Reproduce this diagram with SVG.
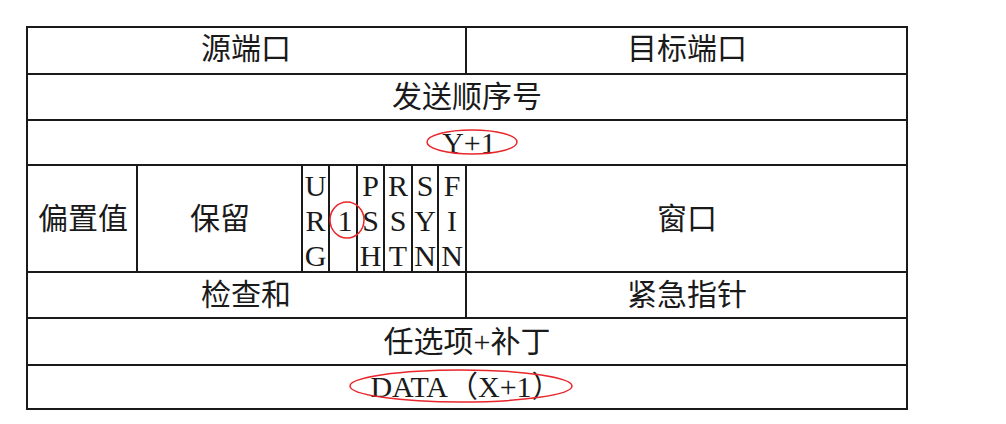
<svg xmlns="http://www.w3.org/2000/svg" width="1006" height="424" viewBox="0 0 1006 424">
<style>
  .ln { stroke: #1a1a1a; stroke-width: 2; fill: none; }
  .t { font-family: "Liberation Serif", "Noto Sans CJK SC", serif; font-size: 30px; fill: #1a1a1a; text-anchor: middle; dominant-baseline: central; }
  .cj { font-size: 30px; }
  .mark { fill: none; stroke: #e8262b; stroke-width: 1.5; }
</style>
<rect width="1006" height="424" fill="#ffffff"/>
<g id="grid">
  <rect class="ln" x="27" y="27" width="880" height="382"/>
  <line class="ln" x1="27" y1="74" x2="907" y2="74"/>
  <line class="ln" x1="27" y1="120" x2="907" y2="120"/>
  <line class="ln" x1="27" y1="165" x2="907" y2="165"/>
  <line class="ln" x1="27" y1="272" x2="907" y2="272"/>
  <line class="ln" x1="27" y1="318" x2="907" y2="318"/>
  <line class="ln" x1="27" y1="365" x2="907" y2="365"/>
  <line class="ln" x1="466" y1="27" x2="466" y2="74"/>
  <line class="ln" x1="466" y1="165" x2="466" y2="318"/>
  <line class="ln" x1="137" y1="165" x2="137" y2="272"/>
  <line class="ln" x1="302" y1="165" x2="302" y2="272"/>
  <line class="ln" x1="329" y1="165" x2="329" y2="272"/>
  <line class="ln" x1="357" y1="165" x2="357" y2="272"/>
  <line class="ln" x1="384" y1="165" x2="384" y2="272"/>
  <line class="ln" x1="412" y1="165" x2="412" y2="272"/>
  <line class="ln" x1="438" y1="165" x2="438" y2="272"/>
</g>
<g id="src-port"><text class="t cj" x="246" y="48">源端口</text></g>
<g id="dst-port"><text class="t cj" x="687" y="48">目标端口</text></g>
<g id="seq"><text class="t cj" x="467" y="96">发送顺序号</text></g>
<g id="ack"><text class="t" x="469" y="142">Y+1</text><ellipse class="mark" cx="472" cy="142" rx="45" ry="12"/></g>
<g id="offset"><text class="t cj" x="83" y="218">偏置值</text></g>
<g id="reserved"><text class="t cj" x="220" y="218">保留</text></g>
<g id="urg"><text class="t" x="315.5" y="185">U</text><text class="t" x="315.5" y="220">R</text><text class="t" x="315.5" y="255">G</text></g>
<g id="ackflag"><text class="t" x="345" y="220">1</text><ellipse class="mark" cx="347" cy="220" rx="17" ry="18"/></g>
<g id="psh"><text class="t" x="370.5" y="185">P</text><text class="t" x="370.5" y="220">S</text><text class="t" x="370.5" y="255">H</text></g>
<g id="rst"><text class="t" x="398" y="185">R</text><text class="t" x="398" y="220">S</text><text class="t" x="398" y="255">T</text></g>
<g id="syn"><text class="t" x="425" y="185">S</text><text class="t" x="425" y="220">Y</text><text class="t" x="425" y="255">N</text></g>
<g id="fin"><text class="t" x="452" y="185">F</text><text class="t" x="452" y="220">I</text><text class="t" x="452" y="255">N</text></g>
<g id="window"><text class="t cj" x="687" y="218">窗口</text></g>
<g id="checksum"><text class="t cj" x="246" y="294">检查和</text></g>
<g id="urgent"><text class="t cj" x="687" y="294">紧急指针</text></g>
<g id="options"><text class="t cj" x="467" y="341">任选项+补丁</text></g>
<g id="data"><text class="t" x="466" y="386">DATA（X+1）</text><ellipse class="mark" cx="461" cy="386" rx="111" ry="16"/></g>
</svg>
